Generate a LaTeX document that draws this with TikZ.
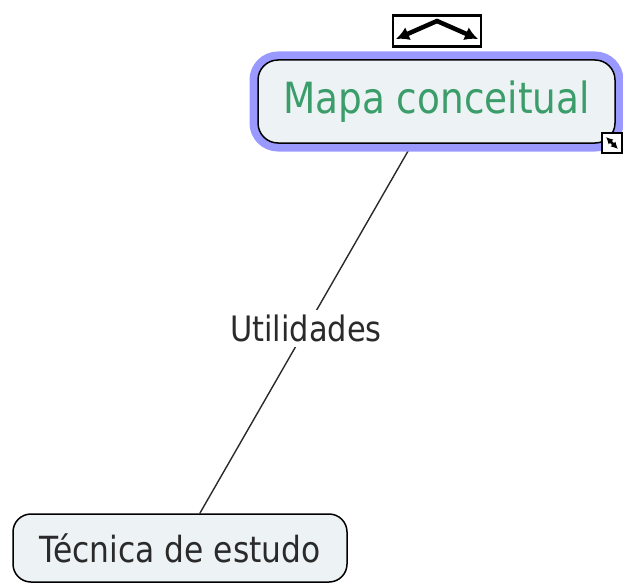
\documentclass[tikz,border=0pt]{standalone}
\usepackage{fontspec}
\setmainfont{DejaVu Sans}[FakeStretch=0.87]
\usetikzlibrary{backgrounds,arrows.meta}
\definecolor{nodefill}{HTML}{EDF3F5}
\definecolor{halo}{HTML}{9999FF}
\definecolor{titlegreen}{HTML}{3A9D6A}
\definecolor{textgray}{HTML}{2A2A2A}
\begin{document}
\begin{tikzpicture}[x=1pt,y=-1pt,
  concept/.style={draw=black, line width=1.5pt, fill=nodefill, inner sep=0pt, anchor=center},
  link/.style={draw=textgray, line width=1.4pt},
  linklabel/.style={fill=white, inner xsep=3pt, inner ysep=5pt, text=textgray, font=\fontsize{35}{40}\selectfont},
  iconbox/.style={draw=black, fill=white, inner sep=0pt},
  iconarrow/.style={draw=black, line width=4.5pt, line cap=round, -{Latex[length=13pt,width=14pt]}}]
\useasboundingbox (0,0) rectangle (623,583);
\node[concept, rounded corners=20pt, minimum width=357pt, minimum height=83pt,
      preaction={draw=halo, line width=17pt, rounded corners=20pt},
      text=titlegreen, font=\fontsize{43}{50}\selectfont] (main) at (436.5,101.5) {Mapa conceitual};
\node[concept, rounded corners=18pt, minimum width=334pt, minimum height=68pt,
      text=textgray, font=\fontsize{36}{42}\selectfont] (tech) at (180,548) {Técnica de estudo};
\path (main) -- node[linklabel] (lab) {Utilidades} (tech);
\begin{scope}[on background layer]
  \draw[link] (main) -- (tech);
\end{scope}
% resize handle
\node[iconbox, line width=1.5pt, minimum size=20pt] (resize) at (612,143) {};
\draw[draw=black, line width=2.5pt, {Latex[length=7pt,width=7pt]}-{Latex[length=7pt,width=7pt]}]
  ([shift={(-6,-6)}]resize.center) -- ([shift={(6,6)}]resize.center);
% top toggle icon
\node[iconbox, line width=2.8pt, minimum width=88pt, minimum height=31pt] (toggle) at (437,31) {};
\coordinate (apex) at (437,21);
\coordinate (leftend) at (396,39);
\coordinate (rightend) at (478,39);
\draw[iconarrow] (apex) -- (leftend);
\draw[iconarrow] (apex) -- (rightend);
\end{tikzpicture}
\end{document}
